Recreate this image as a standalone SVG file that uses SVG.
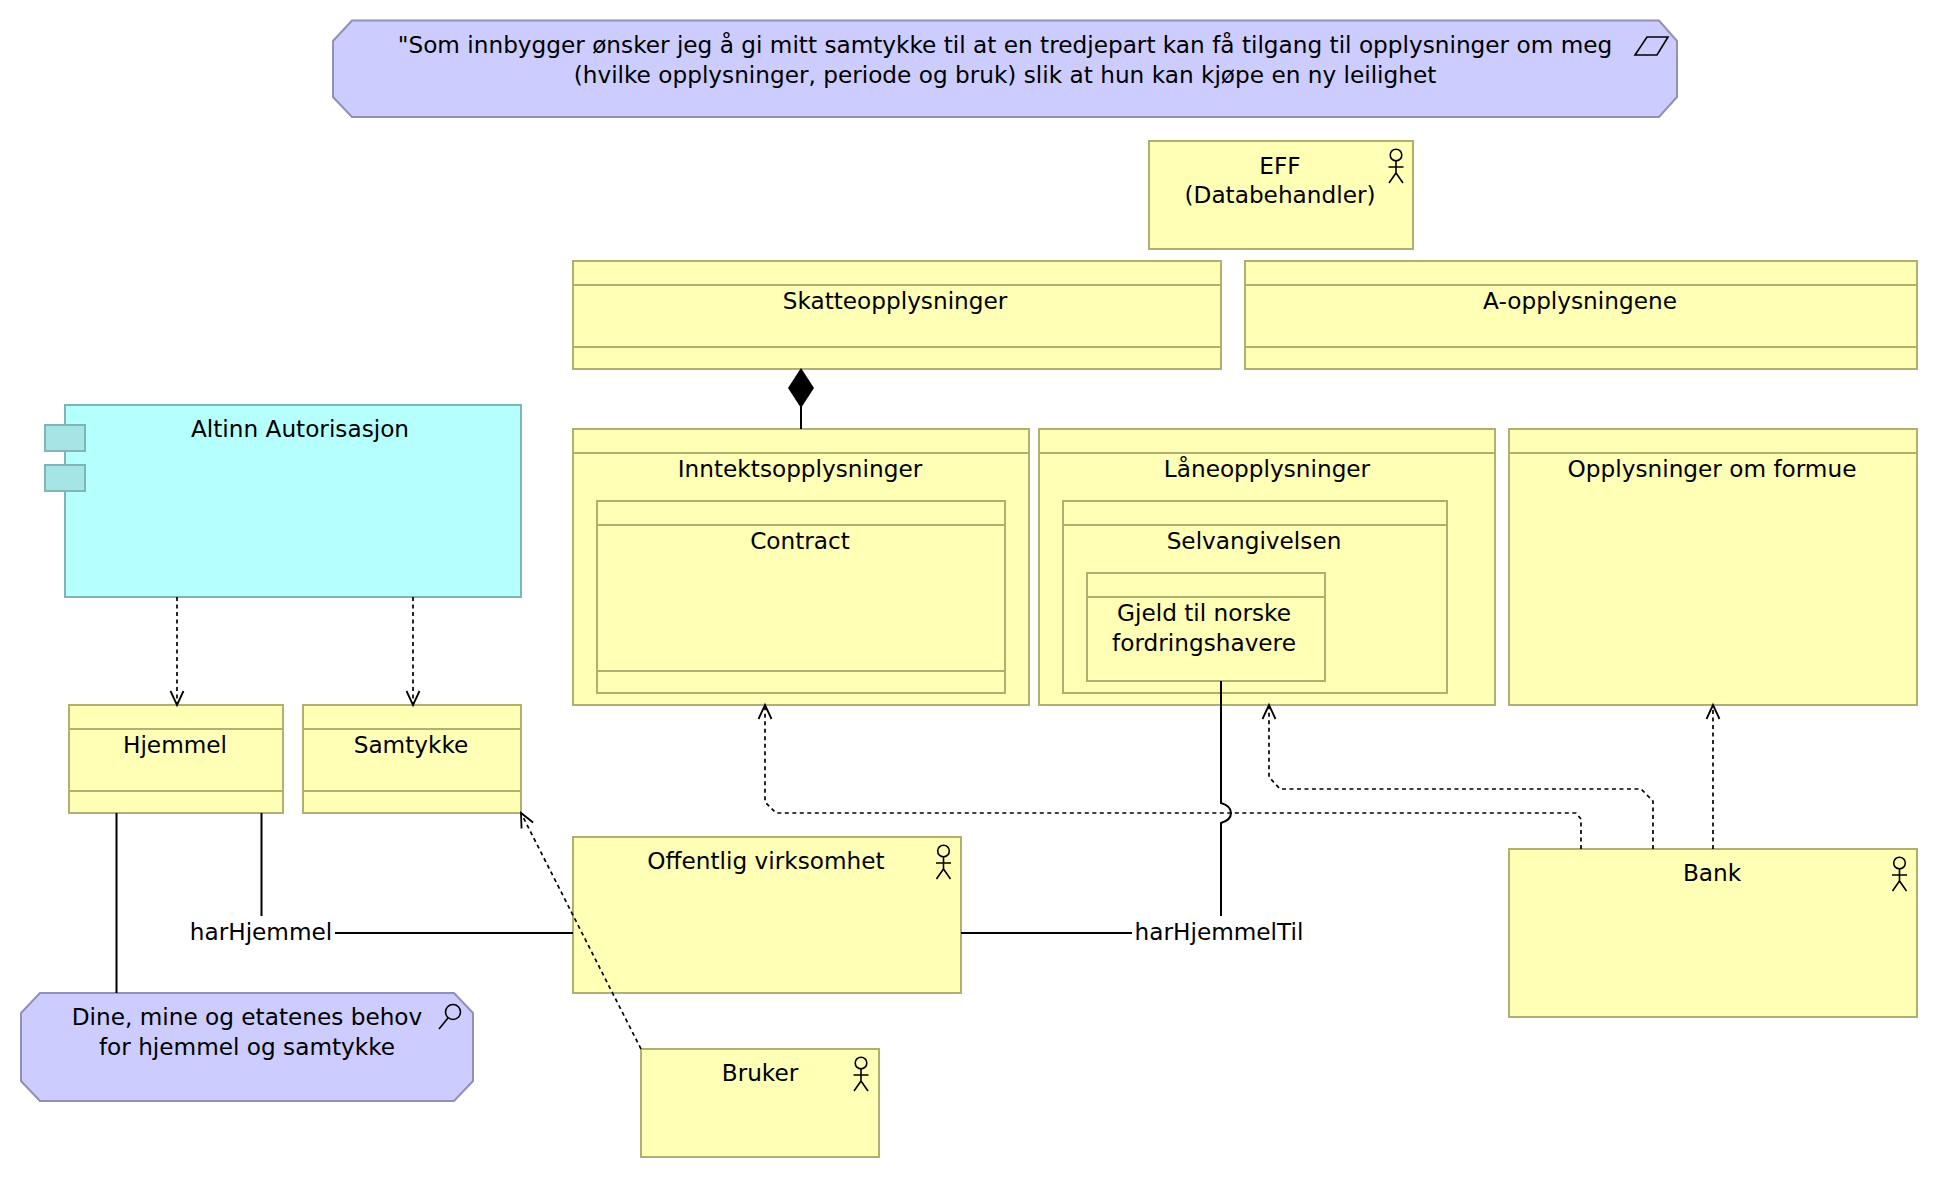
<svg xmlns="http://www.w3.org/2000/svg" width="1938" height="1178" viewBox="0 0 1938 1178">
<defs>
<style>
text{font-family:"DejaVu Sans","Liberation Sans",sans-serif;font-size:23.2px;fill:#000;text-anchor:middle}
.y{fill:#FFFFB5;stroke:#B0B070;stroke-width:2}
.l{stroke:#B0B070;stroke-width:2;fill:none}
.m{fill:#CCCCFF;stroke:#9090B8;stroke-width:2}
.c{fill:#B5FFFF;stroke:#7FB5B5;stroke-width:2}
.t{fill:#A6E5E5;stroke:#7FB5B5;stroke-width:2}
.i{fill:none;stroke:#000;stroke-width:1.6}
.s{fill:none;stroke:#000;stroke-width:2}
.d{fill:none;stroke:#000;stroke-width:1.7;stroke-dasharray:4 3.5}
</style>
<marker id="a" markerUnits="userSpaceOnUse" markerWidth="20" markerHeight="20" refX="15" refY="10" orient="auto"><path d="M1 3.500L15 10L1 16.500" fill="none" stroke="#000" stroke-width="1.800"/></marker>
<g id="actor"><circle cx="0" cy="6" r="5.800" class="i"/><path d="M0 12V24M-7.500 18H7.500M-7 34L0 24L7 34" class="i"/></g>
</defs>
<rect width="1938" height="1178" fill="#fff"/>
<g id="goal"><polygon class="m" points="352,20.500 1659,20.500 1677,41 1677,97 1659,117 352,117 333,97 333,41"/><polygon class="i" points="1647,37 1668,37 1657,55 1635,55"/><text x="1005" y="53">"Som innbygger ønsker jeg å gi mitt samtykke til at en tredjepart kan få tilgang til opplysninger om meg</text><text x="1005" y="83">(hvilke opplysninger, periode og bruk) slik at hun kan kjøpe en ny leilighet</text></g>
<g id="eff"><rect class="y" x="1149" y="141" width="264" height="108"/><use href="#actor" x="1396" y="149"/><text x="1280" y="174">EFF</text><text x="1280" y="203">(Databehandler)</text></g>
<g id="skatte"><rect class="y" x="573" y="261" width="648" height="108"/><path class="l" d="M573 285H1221M573 347H1221"/><text x="895" y="309">Skatteopplysninger</text></g>
<g id="aopp"><rect class="y" x="1245" y="261" width="672" height="108"/><path class="l" d="M1245 285H1917M1245 347H1917"/><text x="1580" y="309">A-opplysningene</text></g>
<g id="innt"><rect class="y" x="573" y="429" width="456" height="276"/><path class="l" d="M573 453H1029"/><text x="800" y="477">Inntektsopplysninger</text></g>
<g id="contract"><rect class="y" x="597" y="501" width="408" height="192"/><path class="l" d="M597 525H1005M597 671H1005"/><text x="800" y="549">Contract</text></g>
<g id="lane"><rect class="y" x="1039" y="429" width="456" height="276"/><path class="l" d="M1039 453H1495"/><text x="1267" y="477">Låneopplysninger</text></g>
<g id="selv"><rect class="y" x="1063" y="501" width="384" height="192"/><path class="l" d="M1063 525H1447"/><text x="1254" y="549">Selvangivelsen</text></g>
<g id="gjeld"><rect class="y" x="1087" y="573" width="238" height="108"/><path class="l" d="M1087 597H1325"/><text x="1204" y="621">Gjeld til norske</text><text x="1204" y="651">fordringshavere</text></g>
<g id="formue"><rect class="y" x="1509" y="429" width="408" height="276"/><path class="l" d="M1509 453H1917"/><text x="1712" y="477">Opplysninger om formue</text></g>
<g id="altinn"><rect class="c" x="65" y="405" width="456" height="192"/><rect class="t" x="45" y="425" width="40" height="26"/><rect class="t" x="45" y="465" width="40" height="26"/><text x="300" y="437">Altinn Autorisasjon</text></g>
<g id="hjemmel"><rect class="y" x="69" y="705" width="214" height="108"/><path class="l" d="M69 729H283M69 791H283"/><text x="175" y="753">Hjemmel</text></g>
<g id="samtykke"><rect class="y" x="303" y="705" width="218" height="108"/><path class="l" d="M303 729H521M303 791H521"/><text x="411" y="753">Samtykke</text></g>
<g id="off"><rect class="y" x="573" y="837" width="388" height="156"/><use href="#actor" x="943.500" y="845"/><text x="766" y="869">Offentlig virksomhet</text></g>
<g id="bank"><rect class="y" x="1509" y="849" width="408" height="168"/><use href="#actor" x="1899.500" y="857"/><text x="1712" y="881">Bank</text></g>
<g id="bruker"><rect class="y" x="641" y="1049" width="238" height="108"/><use href="#actor" x="861" y="1057"/><text x="760" y="1081">Bruker</text></g>
<g id="behov"><polygon class="m" points="40,993 454,993 473,1013 473,1081 454,1101 40,1101 21,1081 21,1013"/><circle class="i" cx="453" cy="1012" r="7.500"/><path class="i" d="M448 1018L439 1029"/><text x="247" y="1025">Dine, mine og etatenes behov</text><text x="247" y="1055">for hjemmel og samtykke</text></g>
<g id="labels"><text x="261" y="940">harHjemmel</text><text x="1219" y="940">harHjemmelTil</text></g>
<g id="connectors">
<path class="d" marker-end="url(#a)" d="M177 597V705"/>
<path class="d" marker-end="url(#a)" d="M413 597V705"/>
<path class="d" marker-end="url(#a)" d="M641 1049L521 813"/>
<path class="d" marker-end="url(#a)" d="M1581 849V819L1576 813H776L765 802V705"/>
<path class="d" marker-end="url(#a)" d="M1653 849V801L1641 789H1280L1269 777V705"/>
<path class="d" marker-end="url(#a)" d="M1713 849V705"/>
<path class="s" d="M116.500 813V993M261.500 813V916M335 933H573M961 933H1132"/>
<path class="s" d="M1221 681V803Q1231 806 1231 813Q1231 820 1221 823V916"/>
<path class="s" d="M801 429V405"/>
<polygon points="801,368 814,388 801,408 788,388" fill="#000"/>
</g>
</svg>
